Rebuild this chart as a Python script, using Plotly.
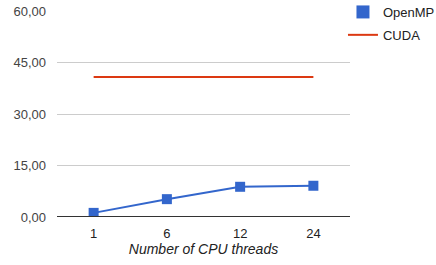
import plotly.graph_objects as go

categories = ["1", "6", "12", "24"]
openmp = [1.2, 5.2, 8.8, 9.1]
cuda = [40.8, 40.8, 40.8, 40.8]
y_ticks = [0, 15, 30, 45, 60]

BLUE = "#3366cc"
RED = "#dc3912"
FONT = "Liberation Sans, Arial, sans-serif"

fig = go.Figure()
fig.add_trace(go.Scatter(x=categories, y=openmp, mode="lines+markers", name="OpenMP",
                         line=dict(color=BLUE, width=2),
                         marker=dict(symbol="square", size=10, color=BLUE),
                         showlegend=False))
fig.add_trace(go.Scatter(x=categories, y=cuda, mode="lines", name="CUDA",
                         line=dict(color=RED, width=2), showlegend=False))
# legend entries
fig.add_trace(go.Scatter(x=[None], y=[None], mode="markers", name="OpenMP",
                         legendgroup="a",
                         marker=dict(symbol="square", size=13, color=BLUE)))
fig.add_trace(go.Scatter(x=[None], y=[None], mode="lines", name="CUDA",
                         legendgroup="b",
                         line=dict(color=RED, width=2)))

fig.update_layout(
    width=436, height=265,
    margin=dict(l=57, r=86, t=11, b=48, autoexpand=False),
    paper_bgcolor="white", plot_bgcolor="white",
    font=dict(family=FONT, size=13, color="#444444"),
    separators=",.",
    legend=dict(x=0.976, y=1.068, xanchor="left", yanchor="top",
                font=dict(size=13, color="#222222"),
                tracegroupgap=3, itemwidth=30, bgcolor="rgba(0,0,0,0)"),
    xaxis=dict(type="category", range=[-0.5, 3.5], showgrid=False,
               showline=False, zeroline=False, ticks="",
               ticklabelstandoff=7,
               tickfont=dict(size=13, color="#222222"),
               title=dict(text="<i>Number of CPU threads</i>", font=dict(size=14, color="#222222"), standoff=4)),
    yaxis=dict(range=[0, 60], tickvals=y_ticks, tickformat=".2f",
               showgrid=True, gridcolor="#cccccc", gridwidth=1,
               zeroline=False, showline=False, ticks="",
               ticklabeloverflow="allow", ticklabelstandoff=10,
               tickfont=dict(size=13, color="#444444")),
)
fig.add_hline(y=0, line=dict(color="#333333", width=2))

fig.write_html("out.html", config={"displayModeBar": False},
               post_script="document.body.style.margin='0';document.body.style.overflow='hidden';")
